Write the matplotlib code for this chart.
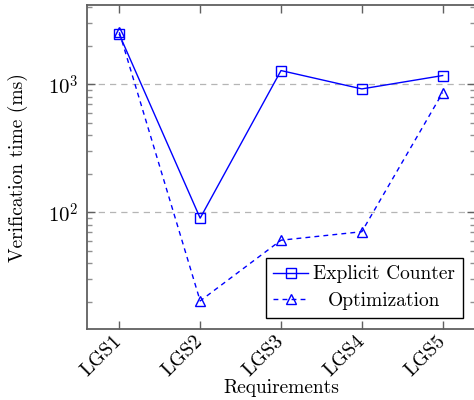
import matplotlib
matplotlib.use("Agg")
import matplotlib.pyplot as plt
import numpy as np

requirements = ["LGS1", "LGS2", "LGS3", "LGS4", "LGS5"]
explicit_counter = [2450, 90, 1280, 920, 1170]
optimization = [2550, 20.3, 60.5, 70.5, 860]

plt.rcParams["font.family"] = "cmr10"
plt.rcParams["mathtext.fontset"] = "cm"
plt.rcParams["axes.formatter.use_mathtext"] = True

fig = plt.figure(figsize=(4.74, 4.0), dpi=100)
ax_h = (329 - 5.3) / 400
ax = fig.add_axes([87 / 474, 1 - 329 / 400, (475 - 87) / 474, ax_h])

x = np.arange(len(requirements))
blue = (0, 0, 1)
ax.plot(x, explicit_counter, color=blue, lw=1.0, marker="s", ms=7.2,
        mfc="none", mec=blue, mew=1.0, label="Explicit Counter", zorder=3)
ax.plot(x, optimization, color=blue, lw=1.0, marker="^", ms=6.5,
        mfc="none", mec=blue, mew=1.0, dashes=(3.5, 3.0),
        label="Optimization", zorder=3)

ax.set_yscale("log")
ax.set_ylim(12.25, 4140)
ax.set_xlim(-0.4, 4.4)

ax.set_xticks(x)
ax.set_xticklabels(requirements, rotation=45, ha="right", va="center",
                   rotation_mode="anchor", fontsize=14.5)
ax.set_yticks([100, 1000])
ax.set_yticklabels([r"$10^{2}$", r"$10^{3}$"], fontsize=15)

axis_grey = "#606060"
for sp in ax.spines.values():
    sp.set_color(axis_grey)
    sp.set_linewidth(1.3)
ax.tick_params(which="both", direction="in", top=True, right=True,
               color=axis_grey)
ax.tick_params(which="major", length=6, width=1.0)
ax.tick_params(axis="x", which="major", pad=7)
ax.tick_params(axis="y", which="major", pad=6)
ax.tick_params(axis="x", which="minor", bottom=False, top=False)
ax.tick_params(axis="y", which="minor", length=3.5, width=1.0, color="#909090")

ax.yaxis.grid(True, which="major", color="#b5b5b5", lw=0.9,
              linestyle=(0, (5, 4)))
ax.set_axisbelow(True)

ax.set_xlabel("Requirements", fontsize=14)
ax.xaxis.set_label_coords(0.5, -(388 - 329) / 400 / ax_h)
ax.xaxis.label.set_va("center")
ax.set_ylabel("Verification time (ms)", fontsize=14)
ax.yaxis.set_label_coords((18 - 87) / 388, 0.5)
ax.yaxis.label.set_va("center")

leg = ax.legend(loc="lower right", bbox_to_anchor=((463 - 87) / 388, 0.034),
                fontsize=14, frameon=True, fancybox=False,
                edgecolor="black", framealpha=1, handlelength=1.75,
                handletextpad=0.3, borderpad=0.4, labelspacing=0.45,
                borderaxespad=0)
leg.get_frame().set_linewidth(1.0)

# centre the shorter entry within the text column
fig.canvas.draw()
texts = leg.get_texts()
r = fig.canvas.get_renderer()
widths = [t.get_window_extent(r).width for t in texts]
wmax = max(widths)
for t, w in zip(texts, widths):
    t.set_x((wmax - w) / 2)

fig.savefig("out.png", dpi=100)
